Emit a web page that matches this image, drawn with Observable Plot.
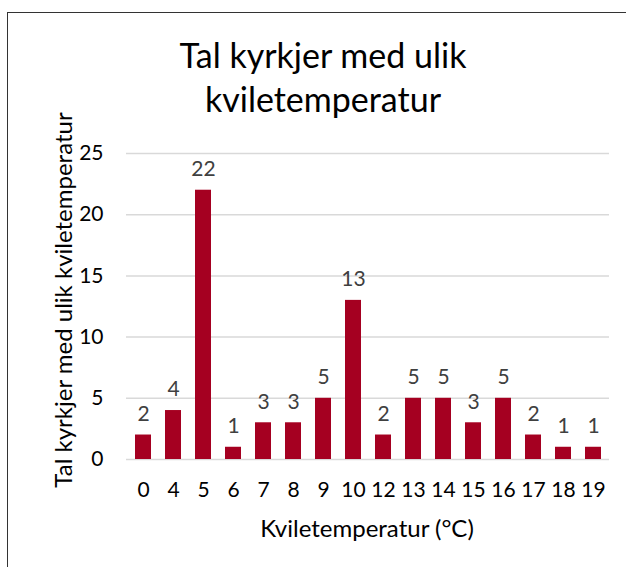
<!DOCTYPE html>
<html>
<head>
<meta charset="utf-8">
<script src="https://cdn.jsdelivr.net/npm/d3@7"></script>
<script src="https://cdn.jsdelivr.net/npm/@observablehq/plot@0.6"></script>
<style>
  html, body { margin: 0; padding: 0; overflow: hidden; background: #fff; }
  #wrap { position: relative; width: 626px; height: 567px; font-family: Lato, "Open Sans", sans-serif; }
  #frame { position: absolute; left: 7px; top: 12px; width: 700px; height: 700px; border: 1.5px solid #333; box-sizing: border-box; }
  #title { position: absolute; left: 0; width: 646px; top: 33px; text-align: center; font-size: 34px; line-height: 44px; color: #000; }
  #ylab { position: absolute; left: 62px; top: 300px; transform: translate(-50%, -50%) rotate(-90deg); white-space: nowrap; font-size: 24px; color: #000; }
  #xlab { position: absolute; left: 367px; top: 527px; transform: translate(-50%, -50%); white-space: nowrap; font-size: 24px; color: #000; }
  #chart { position: absolute; left: 0; top: 0; }
</style>
</head>
<body>
<div id="wrap">
  <div id="chart"></div>
  <div id="frame"></div>
  <div id="title">Tal kyrkjer med ulik<br>kviletemperatur</div>
  <div id="ylab">Tal kyrkjer med ulik kviletemperatur</div>
  <div id="xlab">Kviletemperatur (°C)</div>
</div>
<script>
const categories = ["0","4","5","6","7","8","9","10","12","13","14","15","16","17","18","19"];
const values = [2,4,22,1,3,3,5,13,2,5,5,3,5,2,1,1];
const yTicks = [0,5,10,15,20,25];

const data = categories.map((c, i) => ({temp: c, count: values[i]}));

const chart = Plot.plot({
  width: 626,
  height: 567,
  marginLeft: 126,
  marginRight: 17,
  marginTop: 153,
  marginBottom: 108,
  style: {fontFamily: "Lato, 'Open Sans', sans-serif", background: "transparent"},
  x: {domain: categories, paddingInner: 0.48, paddingOuter: 0.24, label: null},
  y: {domain: [0, 25], label: null},
  marks: [
    Plot.gridY(yTicks, {stroke: "#d9d9d9", strokeOpacity: 1, strokeWidth: 1.5}),
    Plot.barY(data, {x: "temp", y: "count", fill: "#a50021"}),
    Plot.text(data, {x: "temp", y: "count", text: d => String(d.count), dy: -21, fill: "#404040", fontSize: 21, lineAnchor: "middle"}),
    Plot.axisX({tickSize: 0, tickPadding: 31, fontSize: 21, fill: "#000", lineAnchor: "middle"}),
    Plot.axisY(yTicks, {tickSize: 0, tickPadding: 23, fontSize: 21, fill: "#000"})
  ]
});
document.getElementById("chart").appendChild(chart);
</script>
</body>
</html>
